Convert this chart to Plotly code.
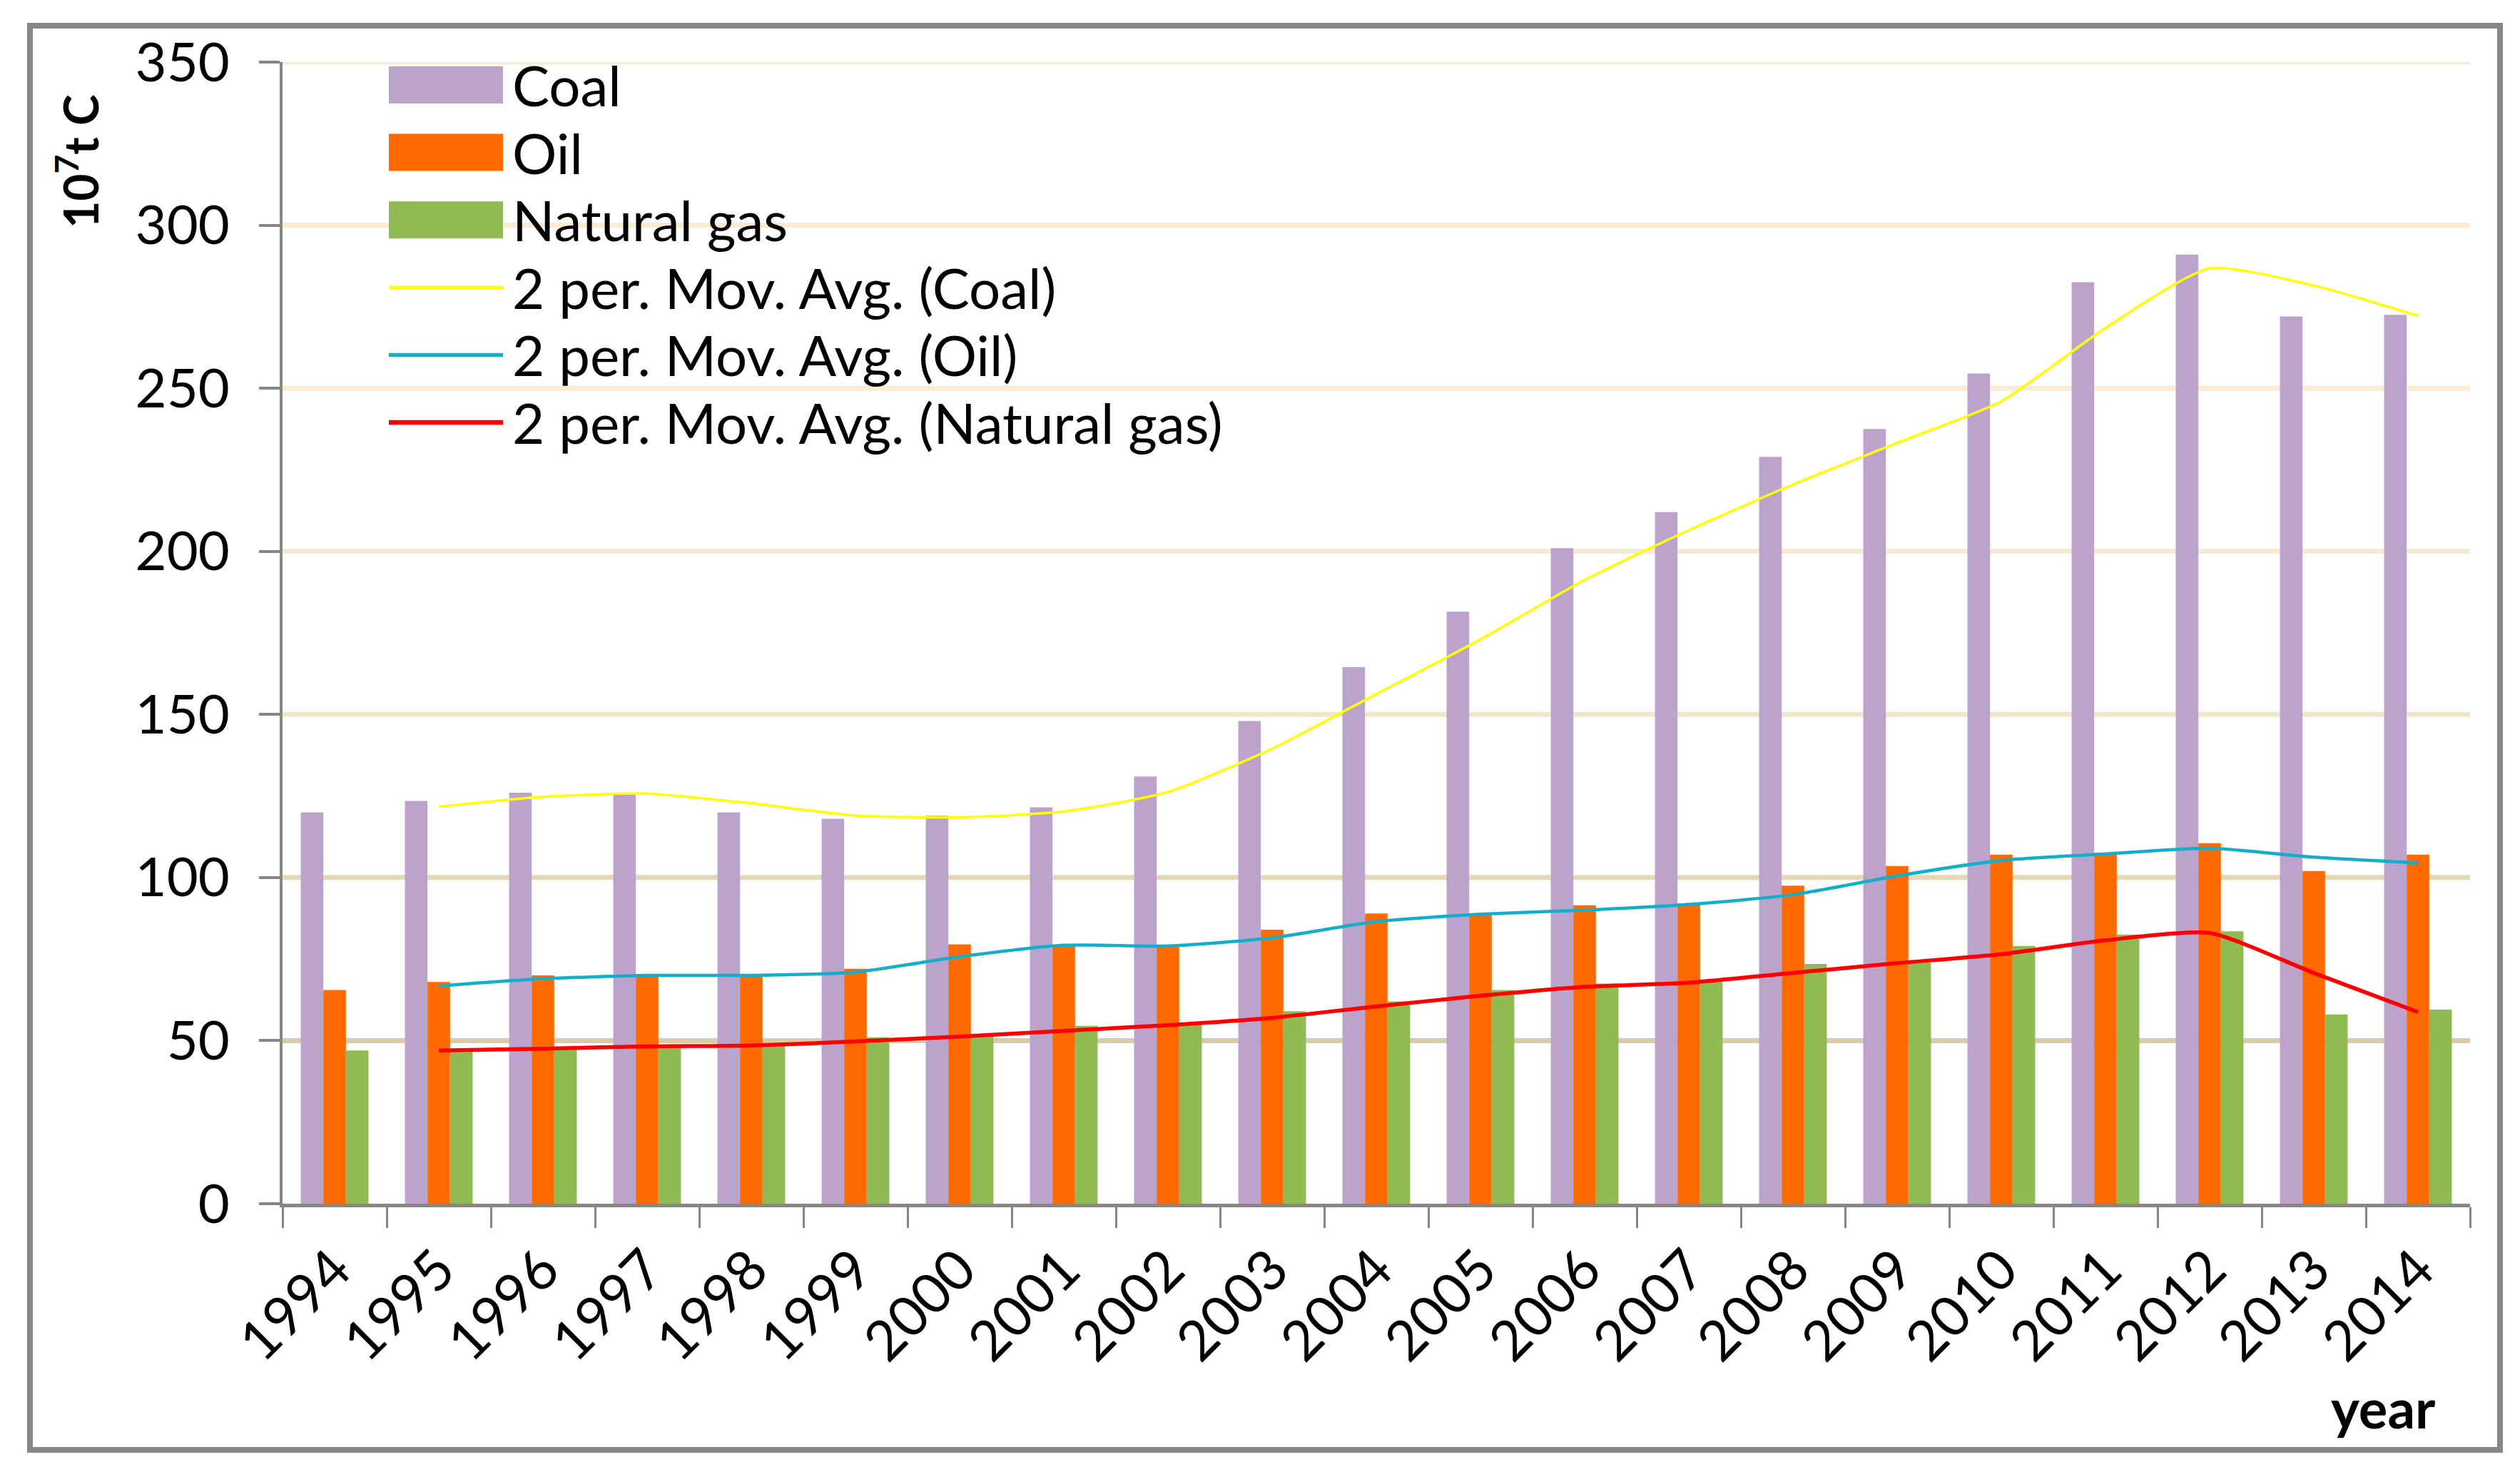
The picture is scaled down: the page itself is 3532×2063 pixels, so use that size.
import pandas as pd
import plotly.graph_objects as go

# Data (10^7 t C)
years = ["1994", "1995", "1996", "1997", "1998", "1999", "2000", "2001", "2002", "2003", "2004",
         "2005", "2006", "2007", "2008", "2009", "2010", "2011", "2012", "2013", "2014"]
coal = [120, 123.5, 126, 125.5, 120, 118, 119, 121.5, 131, 148, 164.5,
        181.5, 201, 212, 229, 237.5, 254.5, 282.5, 291, 272, 272.5]
oil = [65.5, 68, 70, 70, 70, 72, 79.5, 79, 79, 84, 89,
       88.5, 91.5, 92, 97.5, 103.5, 107, 107.5, 110.5, 102, 107]
gas = [47, 47, 48, 48.5, 48.5, 51, 51.5, 54.5, 55, 59, 62,
       65.5, 67.5, 68, 73.5, 74, 79, 82.5, 83.5, 58, 59.5]

y_ticks = [0, 50, 100, 150, 200, 250, 300, 350]
grid_colors = ["#DCCAA4", "#E5D8B9", "#F0E6CE", "#F6EAD4", "#FBEBD3", "#FCEBD2", "#FCEBD2"]

bar_names = ["Coal", "Oil", "Natural gas"]
bar_colors = ["#BBA3CB", "#FF6A00", "#8FBB52"]
ma_names = ["2 per. Mov. Avg. (Coal)", "2 per. Mov. Avg. (Oil)", "2 per. Mov. Avg. (Natural gas)"]
ma_colors = ["#FFFF00", "#12AECB", "#FF0000"]
ma_widths = [3.5, 4.5, 5.5]

FONT = "Lato, 'Open Sans', sans-serif"

df = pd.DataFrame({"year": years, "Coal": coal, "Oil": oil, "Natural gas": gas})

fig = go.Figure()

for name, color in zip(bar_names, bar_colors):
    fig.add_trace(go.Bar(x=df["year"], y=df[name], name=name,
                         marker=dict(color=color, line=dict(width=0)),
                         showlegend=False))

# 2 period moving average trendlines (as Excel draws them)
for col, name, color, w in zip(bar_names, ma_names, ma_colors, ma_widths):
    fig.add_trace(go.Scatter(x=df["year"], y=df[col].rolling(2).mean(), name=name,
                             mode="lines", line=dict(color=color, width=w, shape="spline", smoothing=0.6),
                             showlegend=False))

# plot area in reference pixels (page body adds an 8px offset)
W, H = 3532, 2063
OFF = 8
L, RX, T, BY = 396, 3462, 87, 1687
pw, ph = RX - L, BY - T

def px_x(x):
    return (x - L) / pw

def px_y(y):
    return (BY - y) / ph

shapes = []
# coloured gridlines
for val, c in zip(y_ticks[1:], grid_colors):
    shapes.append(dict(type="line", xref="paper", yref="y", x0=0, x1=1, y0=val, y1=val,
                       line=dict(color=c, width=7), layer="below"))

# outer frame
shapes.append(dict(type="rect", xref="paper", yref="paper",
                   x0=px_x(42), x1=px_x(3504), y0=px_y(2032), y1=px_y(36),
                   line=dict(color="#878787", width=8), layer="above"))

# custom legend (large swatches like the original)
annotations = []
row_y = 119
row_step = 94.6
for i, (name, color) in enumerate(zip(bar_names + ma_names, bar_colors + ma_colors)):
    cy = row_y + i * row_step
    if i < 3:
        shapes.append(dict(type="rect", xref="paper", yref="paper",
                           x0=px_x(545), x1=px_x(705), y0=px_y(cy + 26), y1=px_y(cy - 26),
                           fillcolor=color, line=dict(width=0)))
    else:
        shapes.append(dict(type="line", xref="paper", yref="paper",
                           x0=px_x(545), x1=px_x(705), y0=px_y(cy), y1=px_y(cy),
                           line=dict(color=color, width=ma_widths[i - 3] + 1)))
    annotations.append(dict(text=name, xref="paper", yref="paper", x=px_x(716), y=px_y(cy),
                            xanchor="left", yanchor="middle", showarrow=False,
                            font=dict(family=FONT, size=78, color="black")))

annotations.append(dict(text="<b>10<sup>7</sup>t C</b>", xref="paper", yref="paper",
                        x=px_x(108), y=px_y(226), textangle=-90, showarrow=False,
                        xanchor="center", yanchor="middle",
                        font=dict(family=FONT, size=66, color="black")))
annotations.append(dict(text="<b>year</b>", xref="paper", yref="paper",
                        x=px_x(3340), y=px_y(1972), showarrow=False,
                        xanchor="center", yanchor="middle",
                        font=dict(family=FONT, size=76, color="black")))

fig.update_layout(
    width=W - OFF, height=H - OFF,
    margin=dict(l=L - OFF, r=W - RX, t=T - OFF, b=H - BY),
    paper_bgcolor="white", plot_bgcolor="white",
    barmode="group", bargap=0.35, bargroupgap=0,
    font=dict(family=FONT, color="black"),
    shapes=shapes, annotations=annotations,
    showlegend=False,
)

fig.update_xaxes(type="category", showgrid=False, showline=True, linecolor="#868686", linewidth=5,
                 ticks="outside", tickson="boundaries", ticklen=29, tickwidth=3, tickcolor="#868686",
                 tickangle=-45, tickfont=dict(family=FONT, size=78, color="black"),
                 ticklabelstandoff=10)
fig.update_yaxes(range=[0, 350], tickvals=y_ticks, showgrid=False, zeroline=False,
                 showline=True, linecolor="#868686", linewidth=4,
                 ticks="outside", ticklen=29, tickwidth=4, tickcolor="#868686",
                 tickfont=dict(family=FONT, size=76, color="black"), ticklabelstandoff=26)

fig.write_html("out.html")
